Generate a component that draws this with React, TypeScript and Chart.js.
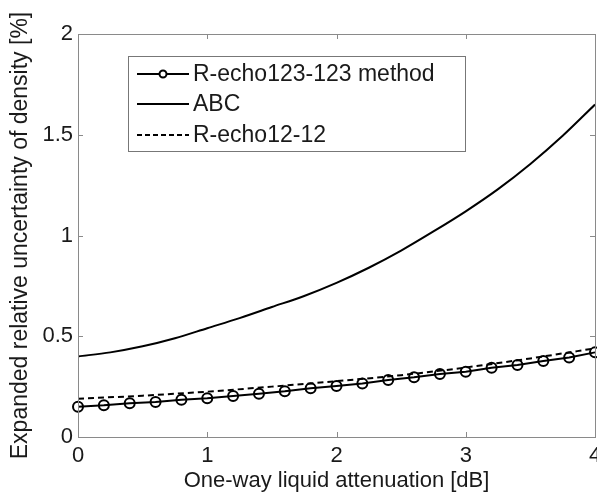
import React, { useEffect, useRef } from "react";
import { Chart, registerables } from "chart.js";

Chart.register(...registerables);

const circleX = [0, 0.2, 0.4, 0.6, 0.8, 1, 1.2, 1.4, 1.6, 1.8, 2, 2.2, 2.4, 2.6, 2.8, 3, 3.2, 3.4, 3.6, 3.8, 4];
const circleY = [0.15, 0.157, 0.168, 0.174, 0.185, 0.192, 0.203, 0.215, 0.227, 0.242, 0.253, 0.266, 0.283, 0.296, 0.313, 0.324, 0.344, 0.357, 0.377, 0.395, 0.42];
const abcX = [0, 0.25, 0.5, 0.75, 1, 1.25, 1.5, 1.75, 2, 2.25, 2.5, 2.75, 3, 3.25, 3.5, 3.75, 4];
const abcY = [0.4, 0.42, 0.45, 0.49, 0.54, 0.59, 0.645, 0.70, 0.765, 0.84, 0.925, 1.02, 1.12, 1.23, 1.355, 1.495, 1.65];
const dashX = [0, 0.5, 1, 1.5, 2, 2.5, 3, 3.5, 4];
const dashY = [0.19, 0.205, 0.225, 0.25, 0.277, 0.307, 0.345, 0.39, 0.44];
const seriesNames = ["R-echo123-123 method", "ABC", "R-echo12-12"];
const xTicks = [0, 1, 2, 3, 4];
const yTicks = [0, 0.5, 1, 1.5, 2];
const xTitle = "One-way liquid attenuation [dB]";
const yTitle = "Expanded relative uncertainty of density [%]";

const FONT = "'Liberation Sans', Arial, sans-serif";
const AXIS_COLOR = "#8a8a8a";
const TEXT_COLOR = "#1a1a1a";

const frameAndLegend = {
  id: "frameAndLegend",
  afterDatasetsDraw(chart: any) {
    const ctx = chart.ctx;
    const { left, right, top, bottom } = chart.chartArea;
    const xs = chart.scales.x;
    const ys = chart.scales.y;
    ctx.save();
    ctx.strokeStyle = AXIS_COLOR;
    ctx.lineWidth = 1;
    ctx.strokeRect(Math.round(left) + 0.5, Math.round(top) + 0.5, Math.round(right - left), Math.round(bottom - top));
    const tl = 5;
    ctx.beginPath();
    xTicks.forEach((v) => {
      const px = Math.round(xs.getPixelForValue(v)) + 0.5;
      ctx.moveTo(px, bottom);
      ctx.lineTo(px, bottom - tl);
      ctx.moveTo(px, top);
      ctx.lineTo(px, top + tl);
    });
    yTicks.forEach((v) => {
      const py = Math.round(ys.getPixelForValue(v)) + 0.5;
      ctx.moveTo(left, py);
      ctx.lineTo(left + tl, py);
      ctx.moveTo(right, py);
      ctx.lineTo(right - tl, py);
    });
    ctx.stroke();

    // legend
    const bx = 128.5, by = 56.5, bw = 337, bh = 95;
    ctx.fillStyle = "#ffffff";
    ctx.fillRect(bx, by, bw, bh);
    ctx.strokeStyle = "#777777";
    ctx.strokeRect(bx, by, bw, bh);
    const rows = [74, 104, 135];
    const x0 = 137, x1 = 189;
    ctx.strokeStyle = "#000";
    ctx.lineWidth = 2;
    rows.forEach((ry, i) => {
      ctx.beginPath();
      ctx.setLineDash(i === 2 ? [5, 3] : []);
      ctx.moveTo(x0, ry);
      ctx.lineTo(x1, ry);
      ctx.stroke();
      ctx.setLineDash([]);
      if (i === 0) {
        ctx.beginPath();
        ctx.arc((x0 + x1) / 2, ry, 3.5, 0, Math.PI * 2);
        ctx.fillStyle = "#fff";
        ctx.fill();
        ctx.stroke();
      }
      ctx.fillStyle = TEXT_COLOR;
      ctx.font = `23px ${FONT}`;
      ctx.textBaseline = "middle";
      ctx.textAlign = "left";
      ctx.fillText(seriesNames[i], 193, ry + 1);
    });
    ctx.restore();
  },
};

export default function App() {
  const ref = useRef<HTMLCanvasElement | null>(null);
  useEffect(() => {
    document.body.style.margin = "0";
    const canvas = ref.current!;
    const toPts = (xs: number[], ys: number[]) => xs.map((x, i) => ({ x, y: ys[i] }));
    const chart = new Chart(canvas, {
      type: "line",
      data: {
        datasets: [
          {
            label: seriesNames[0],
            data: toPts(circleX, circleY),
            borderColor: "#000",
            borderWidth: 2,
            pointRadius: 5,
            pointBorderWidth: 2,
            pointBackgroundColor: "rgba(0,0,0,0)",
            pointBorderColor: "#000",
            tension: 0,
            clip: false,
          },
          {
            label: seriesNames[1],
            data: toPts(abcX, abcY),
            borderColor: "#000",
            borderWidth: 2,
            pointRadius: 0,
            cubicInterpolationMode: "monotone",
          },
          {
            label: seriesNames[2],
            data: toPts(dashX, dashY),
            borderColor: "#000",
            borderWidth: 2,
            borderDash: [6, 4],
            pointRadius: 0,
            cubicInterpolationMode: "monotone",
          },
        ],
      },
      options: {
        animation: false,
        responsive: false,
        layout: { autoPadding: false, padding: { top: 34, right: 2, left: 0, bottom: 0 } },
        plugins: { legend: { display: false }, tooltip: { enabled: false } },
        scales: {
          x: {
            type: "linear",
            min: 0,
            max: 4,
            afterBuildTicks: (s: any) => { s.ticks = xTicks.map((v) => ({ value: v })); },
            afterFit: (s: any) => { s.height = 59; s.paddingLeft = 0; s.paddingRight = 0; },
            grid: { display: false, drawTicks: false },
            border: { display: false },
            ticks: { color: TEXT_COLOR, font: { family: FONT, size: 22 }, padding: 6, maxRotation: 0 },
            title: { display: true, text: xTitle, color: TEXT_COLOR, font: { family: FONT, size: 22 }, padding: { top: 0, bottom: 2 } },
          },
          y: {
            type: "linear",
            min: 0,
            max: 2,
            afterBuildTicks: (s: any) => { s.ticks = yTicks.map((v) => ({ value: v })); },
            afterFit: (s: any) => { s.width = 78; s.paddingTop = 0; s.paddingBottom = 0; },
            grid: { display: false, drawTicks: false },
            border: { display: false },
            ticks: { color: TEXT_COLOR, font: { family: FONT, size: 22 }, padding: 5, callback: (v: any) => String(v) },
            title: { display: true, text: yTitle, color: TEXT_COLOR, font: { family: FONT, size: 23 }, padding: { top: 7, bottom: 0 } },
          },
        },
      },
      plugins: [frameAndLegend],
    } as any);
    return () => chart.destroy();
  }, []);
  return <canvas ref={ref} width={597} height={496} style={{ display: "block" }} />;
}
